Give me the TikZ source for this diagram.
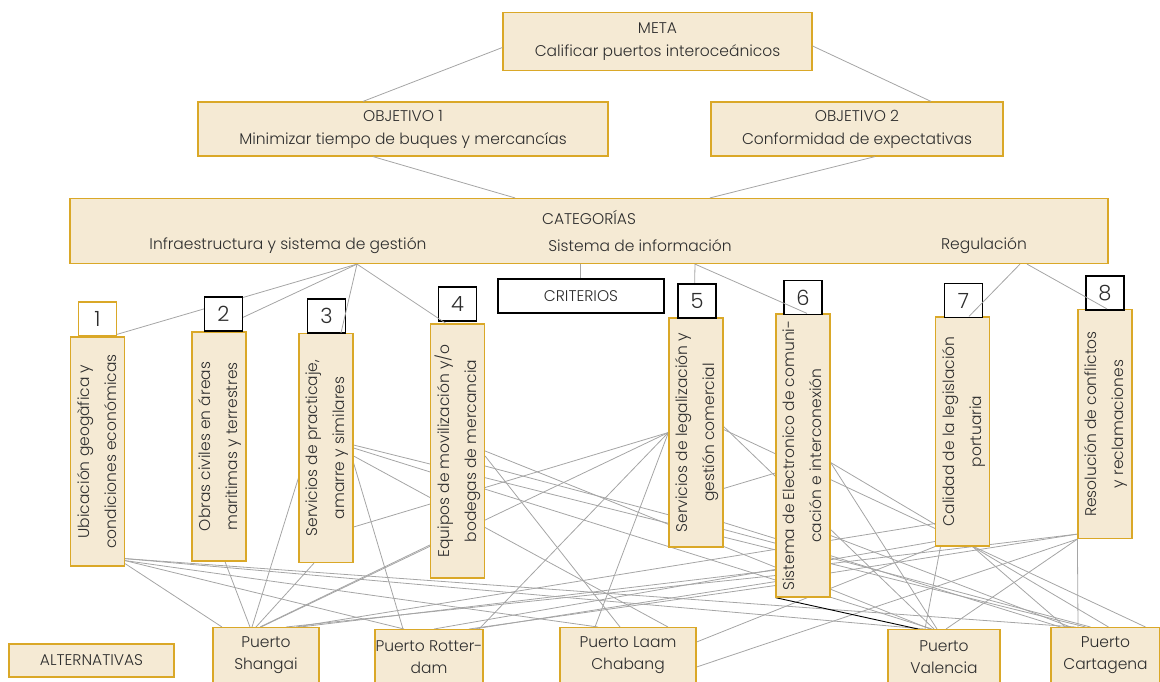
\documentclass[tikz,border=0pt]{standalone}
\usepackage{fontspec}
\setmainfont{Poppins}[UprightFont=* Light]
\usepackage{tikz}
\usetikzlibrary{positioning, backgrounds}
\definecolor{boxfill}{RGB}{245,234,212}
\definecolor{boxline}{RGB}{218,168,40}
\definecolor{linkgray}{RGB}{165,165,165}
\definecolor{txt}{RGB}{45,45,45}
\newcommand{\vtext}[1]{\rotatebox{90}{\fontsize{15.5}{27}\selectfont\begin{tabular}{@{}c@{}}#1\end{tabular}}}

\begin{document}
\begin{tikzpicture}[x=1pt, y=-1pt, font=\fontsize{15.5}{23}\selectfont, text=txt]
\tikzstyle{box}=[draw=boxline, fill=boxfill, line width=1.2pt, inner sep=0pt, align=center]
\tikzstyle{crit}=[box, minimum width=53pt, minimum height=229pt]
\tikzstyle{num}=[draw=black, fill=white, line width=1.2pt, minimum width=38pt, minimum height=34pt, inner sep=0pt, font=\fontsize{21}{23}\selectfont]
\tikzstyle{alt}=[box, anchor=north, minimum height=56pt, font=\fontsize{15.5}{22}\selectfont]
\tikzstyle{link}=[draw=linkgray, line width=0.8pt]

\useasboundingbox (0,0) rectangle (1160,681);

% meta, objetivos y categorias
\node[box, minimum width=309pt, minimum height=58pt] (meta) at (657.5,41.5) {META\\Calificar puertos interoceánicos};
\node[box, minimum width=410pt, minimum height=54pt] (obj1) at (403,129) {OBJETIVO 1\\Minimizar tiempo de buques y mercancías};
\node[box, minimum width=292pt, minimum height=54pt] (obj2) at (857,129) {OBJETIVO 2\\Conformidad de expectativas};
\node[box, minimum width=1038pt, minimum height=65pt] (cat) at (589,231) {};
\node (catname) at (589,217) {CATEGORÍAS};
\node (infra) at (288,246) {Infraestructura y sistema de gestión};
\node (info) at (640,246) {Sistema de información};
\node (regul) at (984,246) {Regulación};

\path[link] ([yshift=-6]meta.west) edge ([xshift=-40]obj1.north);
\path[link] ([yshift=-4.5]meta.east) edge ([xshift=74]obj2.north);
\path[link] ([xshift=-30]obj1.south) edge ([xshift=-74]cat.north);
\path[link] ([xshift=18]obj2.south) edge ([xshift=121]cat.north);

% criterios
\node[draw=black, fill=white, line width=1.2pt, minimum width=166pt, minimum height=34pt] (criterios) at (581,296) {CRITERIOS};
\node[crit] (c1) at (97.5,451.5) {\vtext{Ubicación geogàfica y\\condiciones económicas}};
\node[crit] (c2) at (219,446.5) {\vtext{Obras civiles en áreas\\maritimas y terrestres}};
\node[crit] (c3) at (326,448) {\vtext{Servicios de practicaje,\\amarre y similares}};
\node[crit, minimum height=254pt] (c4) at (457.5,451) {\vtext{Equipos de movilización y/o\\bodegas de mercancia}};
\node[crit] (c5) at (696,432.5) {\vtext{Servicios de legalización y\\gestión comercial}};
\node[crit, minimum height=283pt] (c6) at (803,455.5) {\vtext{Sistema de Electronico de comuni-\\cación e interconexión}};
\node[crit] (c7) at (962.5,431.5) {\vtext{Calidad de la legislación\\portuaria}};
\node[crit] (c8) at (1105,424) {\vtext{Resolución de conflictos\\y reclamaciones}};

% alternativas
\node[box, minimum width=165pt, minimum height=33pt] (alternativas) at (91.5,660.5) {ALTERNATIVAS};
\node[alt, minimum width=106pt] (a1) at (266,627) {Puerto\\Shangai};
\node[alt, minimum width=108pt] (a2) at (429,629) {Puerto Rotter-\\dam};
\node[alt, minimum width=136pt] (a3) at (628,627) {Puerto Laam\\Chabang};
\node[alt, minimum width=112pt] (a4) at (944,629) {Puerto\\Valencia};
\node[alt, minimum width=109pt] (a5) at (1105.5,627) {Puerto\\Cartagena};

\begin{pgfonlayer}{background}
% enlaces criterios - alternativas
\path[link] ([yshift=3]c1.south east) edge ([xshift=-44]a1.north);
\path[link] ([yshift=6]c1.south east) edge ([xshift=-25]a2.north);
\path[link] ([yshift=6]c1.south east) edge ([xshift=-30]a3.north);
\path[link] ([yshift=8]c1.south east) edge ([xshift=-20]a4.north);
\path[link] ([yshift=8]c1.south east) edge ([xshift=-30]a5.north);
\path[link] ([xshift=6]c2.south) edge ([xshift=-16]a1.north);
\path[link] ([yshift=-30]c3.west) edge ([xshift=-14]a1.north);
\path[link] ([xshift=-12]c3.south) edge ([xshift=-10]a1.north);
\path[link] ([yshift=-15]c3.east) edge ([xshift=-26]a2.north);
\path[link] ([yshift=-8]c3.east) edge ([xshift=40]a3.north);
\path[link] (c3.east) edge ([xshift=-12]a4.north);
\path[link] ([yshift=3]c3.east) edge ([xshift=-20]a5.north);
\path[link] ([yshift=-79]c3.east) edge (c5.west);
\path[link] ([yshift=-94]c4.west) edge ([xshift=-6]a1.north);
\path[link] ([yshift=-5]c4.east) edge ([xshift=-8]a3.north);
\path[link] (c4.east) edge ([xshift=-14]a4.north);
\path[link] ([yshift=-15]c4.east) edge ([xshift=-15]a5.north);
\path[link] (c5.west) edge ([xshift=-5]a1.north);
\path[link] (c5.west) edge ([xshift=50]a2.north);
\path[link] (c5.west) edge ([xshift=-33]a3.north);
\path[link] ([yshift=6]c5.east) edge ([xshift=-10]a4.north);
\path[link] ([yshift=3]c5.east) edge ([xshift=40]a5.north);
\path[link] ([yshift=-56]c5.east) edge ([yshift=-17.5]c6.west);
\path[link] ([yshift=-90]c5.east) edge ([xshift=-45]a5.north);
\path[link] ([yshift=-120]c6.west) edge ([xshift=20]a1.north);
\path[link] ([yshift=-130]c6.west) edge ([xshift=40]a2.north);
\path[link] ([yshift=-7]c6.east) edge ([xshift=-7]a4.north);
\path[link] ([yshift=-7]c6.east) edge ([xshift=3]a5.north);
\path[link] ([yshift=-80]c6.east) edge ([xshift=-35]a5.north);
\path[link] ([yshift=-92]c7.west) edge ([xshift=30]a1.north);
\path[link] ([yshift=-110]c7.west) edge ([xshift=5]a2.north);
\path[link] (c7.south west) edge ([yshift=-15]a3.north east);
\path[link] ([xshift=-22]c7.south) edge ([xshift=-19]a4.north);
\path[link] ([xshift=10]c7.south) edge ([xshift=-40]a5.north);
\path[link] ([yshift=5]c8.south west) edge ([xshift=34]a1.north);
\path[link] ([yshift=5]c8.south west) edge ([xshift=45]a2.north);
\path[link] (c8.south west) edge ([yshift=-40]a3.north east);
\path[link] (c8.south west) edge ([xshift=2]a4.north);
\path[link] (c8.south west) edge ([xshift=-27.5]a5.north);
\path[draw=black, line width=0.9pt] (c6.south west) edge ([xshift=-26]a4.north);

% categorias - criterios
\path[link] ([xshift=-232]cat.south) edge ([xshift=12.5]c1.north);
\path[link] ([xshift=-232]cat.south) edge ([xshift=-6]c2.north);
\path[link] ([xshift=-9]cat.south) edge ([xshift=-1]criterios.north);
\path[link] ([xshift=106]cat.south) edge ([xshift=-2]c5.north);
\end{pgfonlayer}

\node[num, draw=boxline] (n1) at (97.5,319) {1};
\node[num] (n2) at (223.5,314) {2};
\node[num] (n3) at (326.5,316) {3};
\node[num] (n4) at (457.5,304) {4};
\node[num] (n5) at (697,301) {5};
\node[num] (n6) at (803,297.5) {6};
\node[num] (n7) at (963.5,300.5) {7};
\node[num] (n8) at (1105,293) {8};

\path[link] ([xshift=-232]cat.south) edge ([xshift=15]c3.north);
\path[link] ([xshift=-232]cat.south) edge ([xshift=-11.5]c4.north);
\path[link] ([xshift=106]cat.south) edge ([xshift=4]c6.north);
\path[link] ([xshift=431]cat.south) edge ([xshift=6.5]c7.north);
\path[link] ([xshift=438]cat.south) edge ([xshift=2]c8.north);
\end{tikzpicture}
\end{document}
